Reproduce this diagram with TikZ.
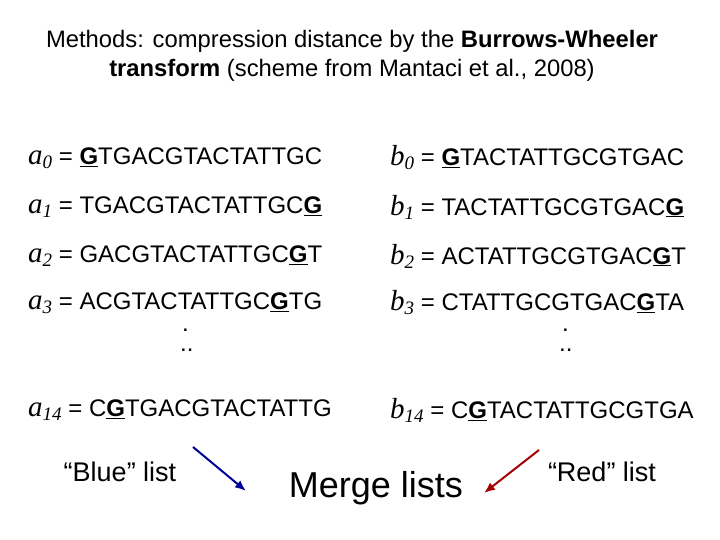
\documentclass[tikz,border=0pt]{standalone}
\usepackage{fontspec}
\usetikzlibrary{arrows.meta}
\setmainfont{Liberation Sans}
\newfontfamily\serifit{Liberation Serif}
\newcommand{\vr}[2]{{\serifit\itshape\fontsize{29}{29}\selectfont #1\raisebox{-0.3ex}{\fontsize{19}{19}\selectfont #2}}}
\newcommand{\ug}{\underline{\textbf{G}}}
\begin{document}
\begin{tikzpicture}[x=1pt,y=-1pt,
  txt/.style={anchor=west,inner sep=0pt,font=\fontsize{24}{24}\selectfont},
  ttl/.style={align=center,inner sep=0pt,font=\fontsize{23.8}{29}\selectfont},
  lbl/.style={inner sep=0pt,font=\fontsize{27}{27}\selectfont},
  arr/.style={-{Latex[length=11pt,width=9pt]},line width=2pt}]
\useasboundingbox (0,0) rectangle (720,540);
\node[ttl] (title) at (352,56) {Methods: compression distance by the \textbf{Burrows-Wheeler}\\ \textbf{transform} (scheme from Mantaci et al., 2008)};
\node[txt] (a0) at (28,158) {\vr{a}{0} = \ug TGACGTACTATTGC};
\node[txt] (a1) at (28,207) {\vr{a}{1} = TGACGTACTATTGC\ug};
\node[txt] (a2) at (28,256) {\vr{a}{2} = GACGTACTATTGC\ug T};
\node[txt] (a3) at (28,303) {\vr{a}{3} = ACGTACTATTGC\ug TG};
\node[txt] (ad1) at (182,330) {.};
\node[txt] (ad2) at (180,350) {..};
\node[txt] (a14) at (28,410) {\vr{a}{14} = C\ug TGACGTACTATTG};
\node[txt] (b0) at (390,158) {\vr{b}{0} = \ug TACTATTGCGTGAC};
\node[txt] (b1) at (390,207) {\vr{b}{1} = TACTATTGCGTGAC\ug};
\node[txt] (b2) at (390,256) {\vr{b}{2} = ACTATTGCGTGAC\ug T};
\node[txt] (b3) at (390,303) {\vr{b}{3} = CTATTGCGTGAC\ug TA};
\node[txt] (bd1) at (562,330) {.};
\node[txt] (bd2) at (559,350) {..};
\node[txt] (b14) at (390,410) {\vr{b}{14} = C\ug TACTATTGCGTGA};
\node[lbl] (blue) at (120,472) {“Blue” list};
\node[lbl] (red) at (602,472) {“Red” list};
\node[inner sep=0pt,font=\fontsize{36}{36}\selectfont] (merge) at (376,488) {Merge lists};
\coordinate (bs) at (193,447); \coordinate (be) at (246,491);
\coordinate (rs) at (539,450); \coordinate (re) at (484,493);
\draw[arr,color=blue!60!black] (bs) -- (be);
\draw[arr,color=red!65!black] (rs) -- (re);
\end{tikzpicture}
\end{document}
